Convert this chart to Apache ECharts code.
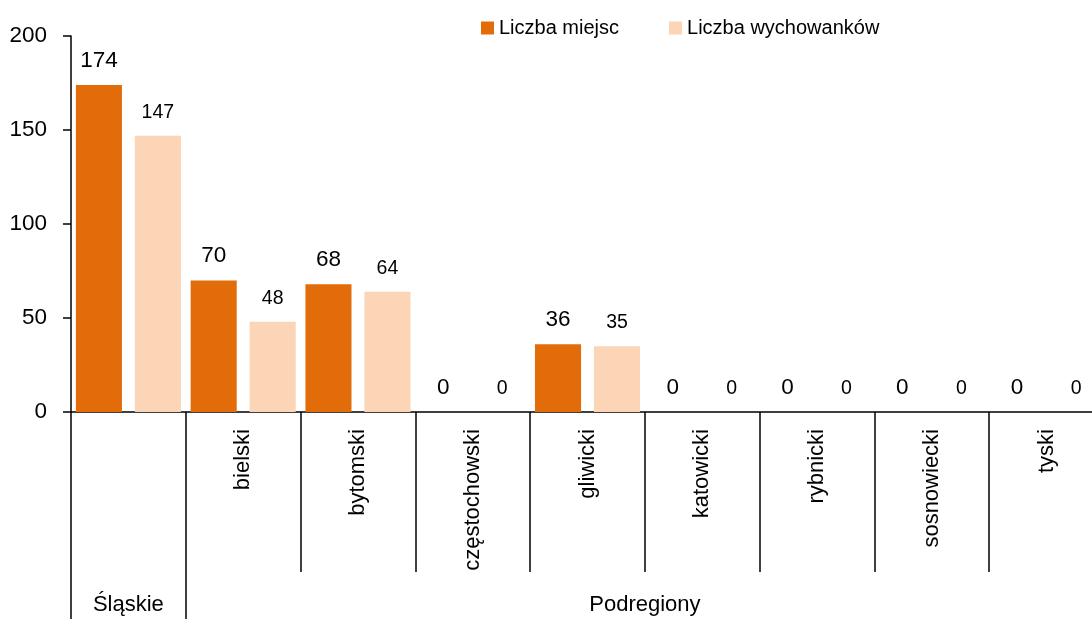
<!DOCTYPE html>
<html>
<head>
<meta charset="utf-8">
<script src="https://cdn.jsdelivr.net/npm/echarts@6/dist/echarts.min.js"></script>
<style>
  html, body { margin: 0; padding: 0; background: #fff; overflow: hidden; }
  /* wykres szerszy niz okno - ostatnia kategoria jest przycieta jak w oryginale */
  #chart { width: 1104px; height: 619px; }
</style>
</head>
<body>
<div id="chart"></div>
<script>
// dane
var categories = ["Śląskie", "bielski", "bytomski", "częstochowski", "gliwicki", "katowicki", "rybnicki", "sosnowiecki", "tyski"];
var liczbaMiejsc = [174, 70, 68, 0, 36, 0, 0, 0, 0];
var liczbaWychowankow = [147, 48, 64, 0, 35, 0, 0, 0, 0];
var seriesNames = ["Liczba miejsc", "Liczba wychowanków"];
var groupLabels = ["Śląskie", "Podregiony"];
var groupLabelPos = [0.5, 5];   // środek grupy, w jednostkach kategorii
var groupBounds = [0, 1];
var yTicks = [0, 50, 100, 150, 200];

var font = "Liberation Sans, Arial, sans-serif";

var chart = echarts.init(document.getElementById("chart"));
chart.setOption({
  animation: false,
  textStyle: { fontFamily: font, color: "#000" },
  color: ["#E36C0A", "#FBD5B5"],
  legend: {
    left: 476,
    top: 13,
    itemWidth: 13,
    itemHeight: 13,
    itemGap: 50,
    icon: "rect",
    textStyle: { fontFamily: font, fontSize: 20, color: "#000" },
    data: seriesNames
  },
  grid: { left: 71, top: 36, right: 0, bottom: 207, containLabel: false },
  xAxis: [
    {
      type: "category",
      data: categories,
      axisLine: { lineStyle: { color: "#000", width: 1.5 } },
      axisTick: { show: true, length: 160, interval: 0, lineStyle: { color: "#000", width: 1.5 } },
      axisLabel: {
        interval: 0,
        rotate: 90,
        margin: 17,
        fontFamily: font,
        fontSize: 22,
        color: "#000",
        formatter: function (v, i) { return i === 0 ? "" : v; }
      }
    },
    {
      type: "value",
      position: "bottom",
      offset: 159,
      min: 0,
      max: categories.length,
      axisLine: { show: false },
      splitLine: { show: false },
      axisTick: { show: true, customValues: groupBounds, length: 48, lineStyle: { color: "#000", width: 1.5 } },
      axisLabel: {
        customValues: groupLabelPos,
        margin: 23,
        fontFamily: font,
        fontSize: 22,
        color: "#000",
        formatter: function (v) { return groupLabels[groupLabelPos.indexOf(v)]; }
      }
    }
  ],
  yAxis: {
    type: "value",
    min: yTicks[0],
    max: yTicks[yTicks.length - 1],
    interval: 50,
    splitLine: { show: false },
    axisLine: { show: true, lineStyle: { color: "#000", width: 1.5 } },
    axisTick: { show: true, length: 8, lineStyle: { color: "#000", width: 1.5 } },
    axisLabel: { margin: 24, fontFamily: font, fontSize: 22.5, color: "#000" }
  },
  series: [
    {
      name: seriesNames[0],
      type: "bar",
      data: liczbaMiejsc,
      barGap: "28%",
      barCategoryGap: "8.5%",
      label: { show: true, position: "top", distance: 13, fontFamily: font, fontSize: 22.5, color: "#000" }
    },
    {
      name: seriesNames[1],
      type: "bar",
      data: liczbaWychowankow,
      barGap: "28%",
      barCategoryGap: "8.5%",
      label: { show: true, position: "top", distance: 13.5, fontFamily: font, fontSize: 19.5, color: "#000" }
    }
  ]
});
</script>
</body>
</html>
